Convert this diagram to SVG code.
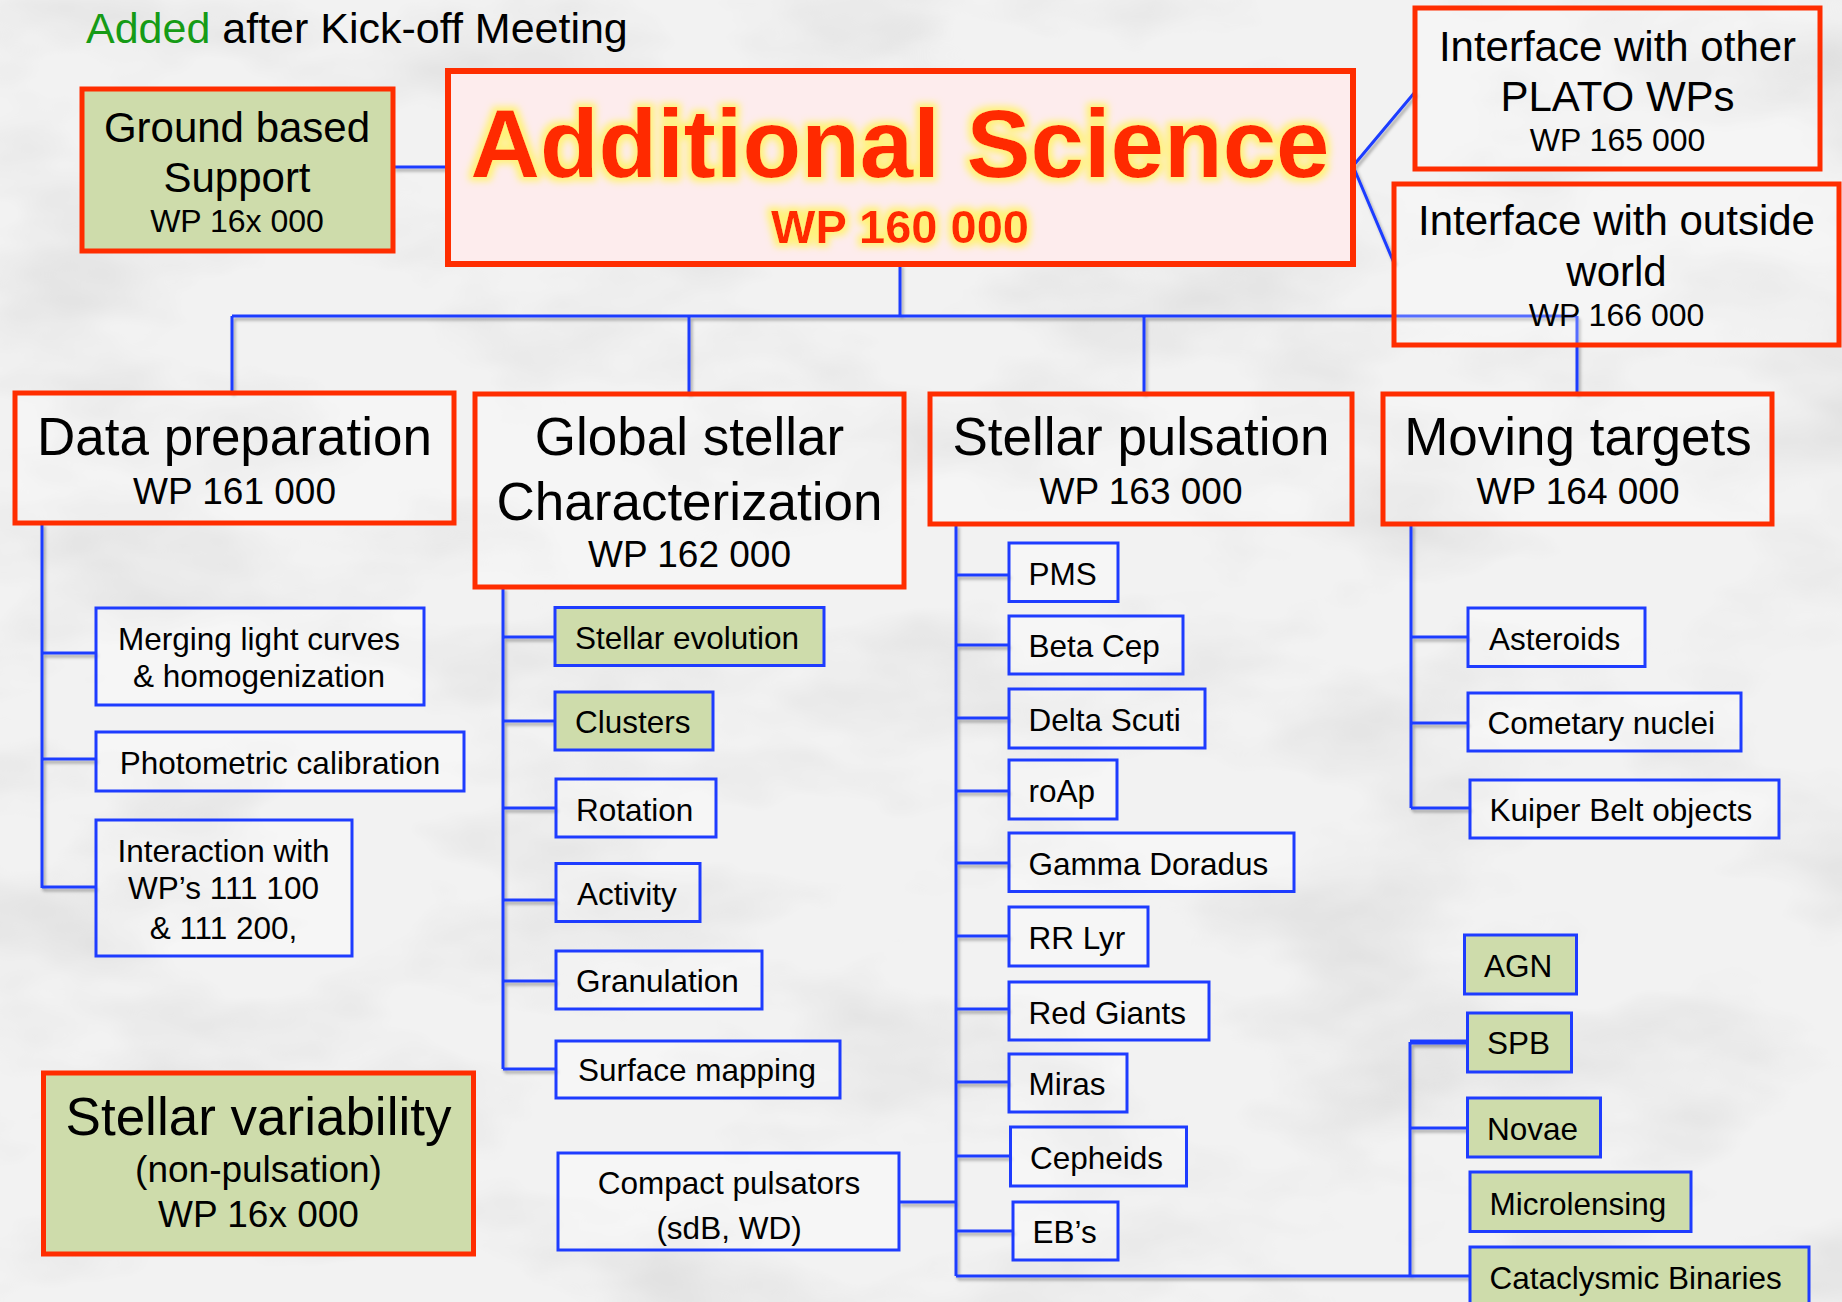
<svg xmlns="http://www.w3.org/2000/svg" width="1842" height="1302" viewBox="0 0 1842 1302">
<defs>
<style>
.t{font-family:"Liberation Sans",Arial,Helvetica,sans-serif;fill:#000}
.h{font-size:53px;text-anchor:middle}
.wp{font-size:37px;text-anchor:middle}
.i{font-size:42px;text-anchor:middle}
.iw{font-size:32px;text-anchor:middle}
.c{font-size:31.5px}
.cm{font-size:31.5px;text-anchor:middle}
.red{fill:#ffffff;fill-opacity:.25;stroke:#ff2d00;stroke-width:5}
.redg{fill:#cedcab;stroke:#ff2d00;stroke-width:5}
.blue{fill:#ffffff;fill-opacity:.3;stroke:#1e3cff;stroke-width:3}
.blueg{fill:#cedcab;stroke:#1e3cff;stroke-width:3}
.conn path{stroke:#1e3cff;stroke-width:3;fill:none}
</style>
<filter id="clouds" x="0" y="0" width="100%" height="100%">
<feTurbulence type="fractalNoise" baseFrequency="0.004 0.008" numOctaves="4" seed="7"/>
<feColorMatrix type="matrix" values="0 0 0 0 0.45  0 0 0 0 0.45  0 0 0 0 0.45  0.7 0 0 0 -0.32"/>
</filter>
<filter id="glow" x="-10%" y="-40%" width="120%" height="180%">
<feMorphology in="SourceAlpha" operator="dilate" radius="4" result="d"/>
<feGaussianBlur in="d" stdDeviation="3.5" result="b"/>
<feFlood flood-color="#fff27a"/>
<feComposite in2="b" operator="in" result="g"/>
<feMerge><feMergeNode in="g"/><feMergeNode in="SourceGraphic"/></feMerge>
</filter>
<filter id="shadow" x="-5%" y="-5%" width="110%" height="110%">
<feDropShadow dx="2" dy="3" stdDeviation="1.5" flood-color="#000" flood-opacity="0.3"/>
</filter>
</defs>

<rect x="0" y="0" width="1842" height="1302" fill="#f2f2f2"/>
<rect x="0" y="0" width="1842" height="1302" filter="url(#clouds)"/>

<g id="title-note">
<text class="t" x="86" y="43" font-size="43px"><tspan fill="#169b16">Added</tspan> after Kick-off Meeting</text>
</g>

<g id="connectors" class="conn" filter="url(#shadow)">
<path d="M393,167 H448"/>
<path d="M900,264 V316"/>
<path d="M232,316 H1577"/>
<path d="M232,316 V393 M689,316 V394 M1144,316 V394 M1577,316 V394"/>
<path d="M1353,166 L1415,92 M1353,166 L1394,263"/>
<path d="M42,523 V888 M42,653 H96 M42,759 H96 M42,887 H96"/>
<path d="M503,587 V1069 M503,637 H555 M503,721 H555 M503,808 H556 M503,900 H556 M503,981 H556 M503,1069 H556"/>
<path d="M956,524 V1276 M956,575 H1009 M956,645 H1009 M956,718 H1009 M956,791 H1009 M956,863 H1009 M956,936 H1009 M956,1009 H1009 M956,1082 H1009 M956,1156 H1010 M956,1231 H1013"/>
<path d="M899,1202 H956"/>
<path d="M956,1276 H1470"/>
<path d="M1410,1042 V1276 M1410,1128 H1467"/>
<path d="M1410,1042 H1467" style="stroke-width:5"/>
<path d="M1411,524 V808 M1411,637 H1468 M1411,723 H1468 M1411,808 H1470"/>
</g>

<g id="ground">
<rect class="redg" x="82" y="89" width="311" height="162"/>
<text class="t i" x="237" y="141.5" font-size="42.5px">Ground based</text>
<text class="t i" x="237" y="191.5" font-size="42.5px">Support</text>
<text class="t iw" x="237" y="231.5" font-size="31px">WP 16x 000</text>
</g>

<g id="additional">
<rect x="448" y="71" width="905" height="193" fill="#fdeced" stroke="#ff2d00" stroke-width="6"/>
<g filter="url(#glow)">
<text x="900" y="176.5" font-family="Liberation Sans,Arial,sans-serif" font-weight="bold" font-size="96px" fill="#ff2a00" text-anchor="middle">Additional Science</text>
<text x="900" y="242.5" font-family="Liberation Sans,Arial,sans-serif" font-weight="bold" font-size="47px" fill="#ff2a00" text-anchor="middle">WP 160 000</text>
</g>
</g>

<g id="if-other">
<rect class="red" x="1415" y="8" width="405" height="161"/>
<text class="t i" x="1617.5" y="61">Interface with other</text>
<text class="t i" x="1617.5" y="111">PLATO WPs</text>
<text class="t iw" x="1617.5" y="150.5">WP 165 000</text>
</g>

<g id="if-outside">
<rect class="red" x="1394" y="184" width="445" height="161"/>
<text class="t i" x="1616.5" y="235">Interface with outside</text>
<text class="t i" x="1616.5" y="286">world</text>
<text class="t iw" x="1616.5" y="326">WP 166 000</text>
</g>

<g id="data-prep">
<rect class="red" x="15" y="393" width="439" height="130"/>
<text class="t h" x="234.5" y="455">Data preparation</text>
<text class="t wp" x="234.5" y="503.5">WP 161 000</text>
</g>

<g id="global">
<rect class="red" x="475" y="394" width="429" height="193"/>
<text class="t h" x="689.5" y="455">Global stellar</text>
<text class="t h" x="689.5" y="519.5">Characterization</text>
<text class="t wp" x="689.5" y="567">WP 162 000</text>
</g>

<g id="pulsation">
<rect class="red" x="930" y="394" width="422" height="130"/>
<text class="t h" x="1141" y="455">Stellar pulsation</text>
<text class="t wp" x="1141" y="504">WP 163 000</text>
</g>

<g id="moving">
<rect class="red" x="1383" y="394" width="389" height="130"/>
<text class="t h" x="1578" y="455">Moving targets</text>
<text class="t wp" x="1578" y="504">WP 164 000</text>
</g>

<g id="variability">
<rect class="redg" x="43.5" y="1073" width="430" height="181"/>
<text class="t h" x="258.5" y="1135">Stellar variability</text>
<text class="t wp" x="258.5" y="1181.5">(non-pulsation)</text>
<text class="t wp" x="258.5" y="1226.5">WP 16x 000</text>
</g>

<g id="merging">
<rect class="blue" x="96" y="608" width="328" height="97"/>
<text class="t cm" x="259" y="649.5">Merging light curves</text>
<text class="t cm" x="259" y="686.5">&amp; homogenization</text>
</g>
<g id="photometric">
<rect class="blue" x="96" y="732" width="368" height="59"/>
<text class="t cm" x="280" y="773.5">Photometric calibration</text>
</g>
<g id="interaction">
<rect class="blue" x="96" y="820" width="256" height="136"/>
<text class="t cm" x="223.5" y="861.5">Interaction with</text>
<text class="t cm" x="223.5" y="898.5">WP’s 111 100</text>
<text class="t cm" x="223.5" y="938.5">&amp; 111 200,</text>
</g>

<g id="stellar-evolution">
<rect class="blueg" x="555" y="607.5" width="269" height="58"/>
<text class="t c" x="575" y="649">Stellar evolution</text>
</g>
<g id="clusters">
<rect class="blueg" x="555" y="692" width="158" height="58"/>
<text class="t c" x="575" y="733">Clusters</text>
</g>
<g id="rotation">
<rect class="blue" x="556" y="779" width="160" height="58"/>
<text class="t c" x="576" y="821">Rotation</text>
</g>
<g id="activity">
<rect class="blue" x="556" y="863.5" width="144" height="58"/>
<text class="t c" x="577" y="904.5">Activity</text>
</g>
<g id="granulation">
<rect class="blue" x="556" y="951" width="206" height="58"/>
<text class="t c" x="576" y="991.5">Granulation</text>
</g>
<g id="surface">
<rect class="blue" x="556" y="1041" width="284" height="57"/>
<text class="t c" x="578" y="1081">Surface mapping</text>
</g>
<g id="compact">
<rect class="blue" x="558" y="1153" width="341" height="97"/>
<text class="t cm" x="729" y="1193.5">Compact pulsators</text>
<text class="t cm" x="729" y="1238.5">(sdB, WD)</text>
</g>

<g id="pms">
<rect class="blue" x="1009" y="543" width="109" height="58.5"/>
<text class="t c" x="1028.5" y="585">PMS</text>
</g>
<g id="beta-cep">
<rect class="blue" x="1009" y="616" width="174" height="58"/>
<text class="t c" x="1028.5" y="657">Beta Cep</text>
</g>
<g id="delta-scuti">
<rect class="blue" x="1009" y="689" width="196" height="59"/>
<text class="t c" x="1028.5" y="731">Delta Scuti</text>
</g>
<g id="roap">
<rect class="blue" x="1009" y="760" width="108" height="59"/>
<text class="t c" x="1028.5" y="802">roAp</text>
</g>
<g id="gamma-doradus">
<rect class="blue" x="1009" y="833" width="285" height="58.5"/>
<text class="t c" x="1028.5" y="875">Gamma Doradus</text>
</g>
<g id="rr-lyr">
<rect class="blue" x="1009" y="907" width="139" height="59"/>
<text class="t c" x="1028.5" y="948.5">RR Lyr</text>
</g>
<g id="red-giants">
<rect class="blue" x="1009" y="982" width="200" height="58"/>
<text class="t c" x="1028.5" y="1023.5">Red Giants</text>
</g>
<g id="miras">
<rect class="blue" x="1009" y="1054" width="118" height="58"/>
<text class="t c" x="1028.5" y="1095">Miras</text>
</g>
<g id="cepheids">
<rect class="blue" x="1010.5" y="1127" width="176" height="59"/>
<text class="t c" x="1030" y="1168.5">Cepheids</text>
</g>
<g id="ebs">
<rect class="blue" x="1013" y="1202" width="105" height="58"/>
<text class="t c" x="1032.5" y="1243">EB’s</text>
</g>

<g id="asteroids">
<rect class="blue" x="1468" y="608" width="177" height="58.5"/>
<text class="t c" x="1489" y="649.5">Asteroids</text>
</g>
<g id="cometary">
<rect class="blue" x="1468" y="693" width="273" height="58"/>
<text class="t c" x="1487.5" y="733.5">Cometary nuclei</text>
</g>
<g id="kuiper">
<rect class="blue" x="1470" y="780" width="309" height="58"/>
<text class="t c" x="1489.5" y="821">Kuiper Belt objects</text>
</g>

<g id="agn">
<rect class="blueg" x="1464.5" y="935" width="112" height="59"/>
<text class="t c" x="1484" y="977">AGN</text>
</g>
<g id="spb">
<rect class="blueg" x="1467.5" y="1013" width="104" height="59"/>
<text class="t c" x="1487" y="1054">SPB</text>
</g>
<g id="novae">
<rect class="blueg" x="1467.5" y="1098" width="133" height="59"/>
<text class="t c" x="1487" y="1139.5">Novae</text>
</g>
<g id="microlensing">
<rect class="blueg" x="1470" y="1172" width="221" height="59.5"/>
<text class="t c" x="1489.5" y="1215">Microlensing</text>
</g>
<g id="cataclysmic">
<rect class="blueg" x="1470" y="1247" width="339" height="70"/>
<text class="t c" x="1489.5" y="1288.5">Cataclysmic Binaries</text>
</g>
</svg>
